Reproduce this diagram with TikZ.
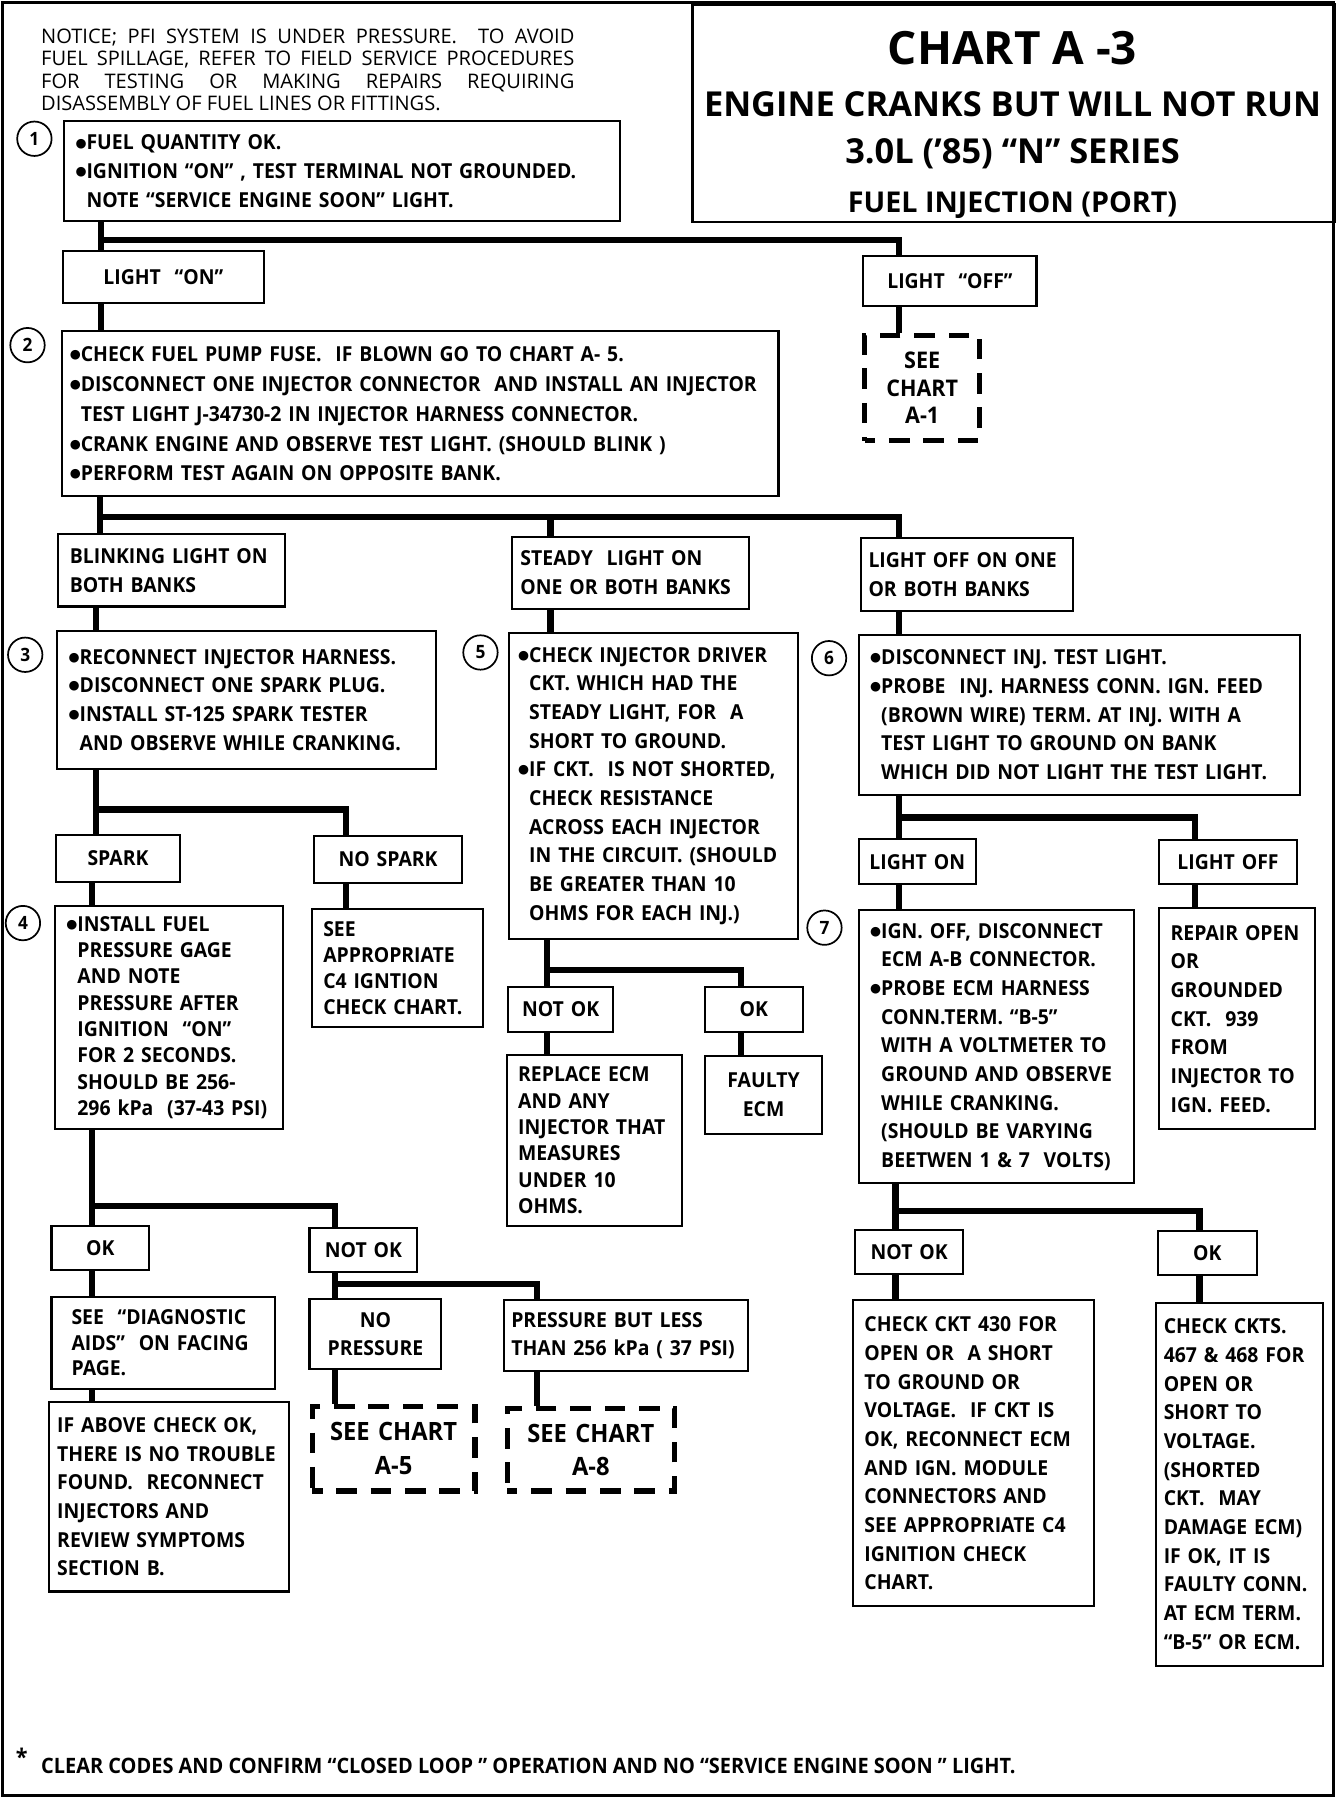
\documentclass[tikz,border=0pt]{standalone}
\usepackage{fontspec}
\setmainfont{Open Sans}[FakeStretch=0.94]
\newfontfamily\headfont{Open Sans}
\newfontfamily\symfont{DejaVu Sans}
\newcommand{\boxfont}{\fontsize{18}{25}\selectfont\bfseries}
\newcommand{\tightfont}{\fontsize{18}{23}\selectfont\bfseries}
\newcommand{\chartfont}{\fontsize{20}{24}\selectfont\bfseries}
\newcommand{\numfont}{\fontsize{16}{16}\selectfont\bfseries}
\newcommand{\notefont}{\headfont\fontsize{17.5}{19.7}\selectfont}
\newcommand{\bul}{\raisebox{2.6pt}{\symfont\fontsize{11}{11}\selectfont ●}}
\newcommand{\cont}{\hphantom{\bul}}
\tikzset{
  every picture/.style={line width=1.8pt},
  box/.style={draw, line width=1.8pt, anchor=north west, inner sep=0pt, align=left, font=\boxfont},
  tag/.style={box, align=center},
  seechart/.style={box, align=center, line width=4.5pt, dash pattern=on 18pt off 12pt, dash phase=9pt, font=\chartfont},
  link/.style={line width=5.5pt},
  num/.style={draw, circle, line width=1.5pt, minimum size=30pt, inner sep=0pt, font=\numfont},
  title/.style={anchor=base, inner sep=0pt},
  sz/.code 2 args={\pgfmathsetmacro\boxtw{#1-20}%
    \edef\boxset{\noexpand\pgfkeysalso{minimum width=#1pt, minimum height=#2pt, text width=\boxtw pt}}\boxset},
}

\begin{document}
\begin{tikzpicture}[x=1pt, y=-1pt]
  \useasboundingbox (0,0) rectangle (1172,1568);
  \draw[line width=3pt] (2,2) rectangle (1163,1566);
  % heading
  \node[box, sz={560}{190}] (head) at (603,3) {};
  \node[title, font={\headfont\fontsize{40}{40}\selectfont\bfseries}] (t1) at (883,56) {CHART A -3};
  \node[title, font={\headfont\fontsize{30}{30}\selectfont\bfseries}] (t2) at (883,102) {ENGINE CRANKS BUT WILL NOT RUN};
  \node[title, font={\headfont\fontsize{30}{30}\selectfont\bfseries}] (t3) at (883,143) {3.0L (’85) “N” SERIES};
  \node[title, font={\headfont\fontsize{25}{25}\selectfont\bfseries}] (t4) at (883,185) {FUEL INJECTION (PORT)};
  \node[anchor=north west, inner sep=0pt, align=left, font=\notefont] (notice) at (35,24) {%
    \makebox[465pt][s]{NOTICE; PFI SYSTEM IS UNDER PRESSURE.\ \ TO AVOID}\\
    \makebox[465pt][s]{FUEL SPILLAGE, REFER TO FIELD SERVICE PROCEDURES}\\
    \makebox[465pt][s]{FOR TESTING OR MAKING REPAIRS REQUIRING}\\
    DISASSEMBLY OF FUEL LINES OR FITTINGS.};
  % step numbers
  \node[num] (n1) at (30,121) {1};
  \node[num] (n2) at (24,301) {2};
  \node[num] (n3) at (22,571) {3};
  \node[num] (n4) at (20,805) {4};
  \node[num] (n5) at (419,569) {5};
  \node[num] (n6) at (723,574) {6};
  \node[num] (n7) at (719,809) {7};
  % boxes
  \node[box, sz={485}{87}] (b1) at (55,105) {\bul FUEL QUANTITY OK.\\
    \bul IGNITION “ON” , TEST TERMINAL NOT GROUNDED.\\
    \cont NOTE “SERVICE ENGINE SOON” LIGHT.};
  \node[tag, sz={175}{45}] (lon) at (54,218) {LIGHT\ \ “ON”};
  \node[tag, sz={151}{44}] (loff) at (752,222) {LIGHT\ \ “OFF”};
  \node[seechart, sz={100}{92}] (a1) at (752,290) {SEE\\CHART\\A-1};
  \node[box, sz={625}{144}, font={\fontsize{18}{26}\selectfont\bfseries}, text width=611pt] (b2) at (53,288) {\bul CHECK FUEL PUMP FUSE.\ \ IF BLOWN GO TO CHART A- 5.\\
    \bul DISCONNECT ONE INJECTOR CONNECTOR\ \ AND INSTALL AN INJECTOR\\
    \cont TEST LIGHT J-34730-2 IN INJECTOR HARNESS CONNECTOR.\\
    \bul CRANK ENGINE AND OBSERVE TEST LIGHT. (SHOULD BLINK )\\
    \bul PERFORM TEST AGAIN ON OPPOSITE BANK.};
  \node[box, sz={198}{63}] (blink) at (50,465) {BLINKING LIGHT ON\\BOTH BANKS};
  \node[box, sz={206}{63}, text width=192pt] (steady) at (446,467) {STEADY\ \ LIGHT ON\\ONE OR BOTH BANKS};
  \node[box, sz={185}{64}, text width=172pt] (loffone) at (750,468) {LIGHT OFF ON ONE\\OR BOTH BANKS};
  \node[box, sz={330}{121}] (b3) at (49,549) {\bul RECONNECT INJECTOR HARNESS.\\
    \bul DISCONNECT ONE SPARK PLUG.\\
    \bul INSTALL ST-125 SPARK TESTER\\
    \cont AND OBSERVE WHILE CRANKING.};
  \node[box, sz={252}{267}, text width=236pt] (b5) at (443,551) {\bul CHECK INJECTOR DRIVER\\
    \cont CKT. WHICH HAD THE\\
    \cont STEADY LIGHT, FOR\ \ A\\
    \cont SHORT TO GROUND.\\
    \bul IF CKT.\ \ IS NOT SHORTED,\\
    \cont CHECK RESISTANCE\\
    \cont ACROSS EACH INJECTOR\\
    \cont IN THE CIRCUIT. (SHOULD\\
    \cont BE GREATER THAN 10\\
    \cont OHMS FOR EACH INJ.)};
  \node[box, sz={385}{139}] (b6) at (748,553) {\bul DISCONNECT INJ. TEST LIGHT.\\
    \bul PROBE\ \ INJ. HARNESS CONN. IGN. FEED\\
    \cont (BROWN WIRE) TERM. AT INJ. WITH A\\
    \cont TEST LIGHT TO GROUND ON BANK\\
    \cont WHICH DID NOT LIGHT THE TEST LIGHT.};
  \node[tag, sz={108}{41}] (spark) at (48,727) {SPARK};
  \node[tag, sz={129}{41}] (nospark) at (273,728) {NO SPARK};
  \node[tag, sz={102}{39}, text width=100pt] (lighton) at (748,731) {LIGHT ON};
  \node[tag, sz={120}{38}, text width=116pt] (lightoff) at (1010,732) {LIGHT OFF};
  \node[box, sz={199}{195}, font=\tightfont] (b4) at (47,789) {\bul INSTALL FUEL\\
    \cont PRESSURE GAGE\\
    \cont AND NOTE\\
    \cont PRESSURE AFTER\\
    \cont IGNITION\ \ “ON”\\
    \cont FOR 2 SECONDS.\\
    \cont SHOULD BE 256-\\
    \cont 296 kPa\ \ (37-43 PSI)};
  \node[box, sz={149}{103}, font={\fontsize{18}{22.5}\selectfont\bfseries}] (seeappr) at (271,792) {SEE\\APPROPRIATE\\C4 IGNTION\\CHECK CHART.};
  \node[box, sz={240}{238}] (b7) at (748,793) {\bul IGN. OFF, DISCONNECT\\
    \cont ECM A-B CONNECTOR.\\
    \bul PROBE ECM HARNESS\\
    \cont CONN.TERM. “B-5”\\
    \cont WITH A VOLTMETER TO\\
    \cont GROUND AND OBSERVE\\
    \cont WHILE CRANKING.\\
    \cont (SHOULD BE VARYING\\
    \cont BEETWEN 1 \& 7\ \ VOLTS)};
  \node[box, sz={136}{193}] (repair) at (1010,791) {REPAIR OPEN\\OR\\GROUNDED\\CKT.\ \ 939\\FROM\\INJECTOR TO\\IGN. FEED.};
  \node[tag, sz={92}{39}, text width=88pt] (notok5) at (442,860) {NOT OK};
  \node[tag, sz={85}{39}] (ok5) at (614,860) {OK};
  \node[box, sz={153}{149}, font=\tightfont] (replace) at (441,919) {REPLACE ECM\\AND ANY\\INJECTOR THAT\\MEASURES\\UNDER 10\\OHMS.};
  \node[tag, sz={102}{68}] (faulty) at (614,920) {FAULTY\\ECM};
  \node[tag, sz={85}{39}] (ok4) at (44,1068) {OK};
  \node[tag, sz={94}{38}, text width=90pt] (notok4) at (269,1070) {NOT OK};
  \node[tag, sz={94}{38}, text width=90pt] (notok7) at (745,1072) {NOT OK};
  \node[tag, sz={86}{38}] (ok7) at (1009,1073) {OK};
  \node[box, sz={195}{80}, font={\fontsize{18}{22.5}\selectfont\bfseries}, text width=160pt] (seediag) at (44,1130) {SEE\ \ “DIAGNOSTIC\\AIDS”\ \ ON FACING\\PAGE.};
  \node[tag, sz={115}{61}] (nopress) at (269,1132) {NO\\PRESSURE};
  \node[box, sz={212}{62}, text width=200pt] (pressless) at (439,1133) {PRESSURE BUT LESS\\THAN 256 kPa ( 37 PSI)};
  \node[box, sz={210}{267}] (checkckt) at (743,1133) {CHECK CKT 430 FOR\\OPEN OR\ \ A SHORT\\TO GROUND OR\\VOLTAGE.\ \ IF CKT IS\\OK, RECONNECT ECM\\AND IGN. MODULE\\CONNECTORS AND\\SEE APPROPRIATE C4\\IGNITION CHECK\\CHART.};
  \node[box, sz={146}{317}, text width=132pt] (checkckts) at (1007,1135) {CHECK CKTS.\\467 \& 468 FOR\\OPEN OR\\SHORT TO\\VOLTAGE.\\(SHORTED\\CKT.\ \ MAY\\DAMAGE ECM)\\IF OK, IT IS\\FAULTY CONN.\\AT ECM TERM.\\“B-5” OR ECM.};
  \node[box, sz={209}{165}, text width=195pt] (ifabove) at (42,1222) {IF ABOVE CHECK OK,\\THERE IS NO TROUBLE\\FOUND.\ \ RECONNECT\\INJECTORS AND\\REVIEW SYMPTOMS\\SECTION B.};
  \node[seechart, sz={142}{74}, font={\fontsize{22}{29}\selectfont\bfseries}] (a5) at (270,1224) {SEE CHART\\A-5};
  \node[seechart, sz={146}{72}, font={\fontsize{22}{29}\selectfont\bfseries}] (a8) at (440,1226) {SEE CHART\\A-8};
  % connectors
  \coordinate (j1) at (88,209);
  \coordinate (k1) at (784,209);
  \draw[link] (b1.south -| j1) -- (lon.north -| j1);
  \draw[link] (j1) -- (k1) -- (loff.north -| k1);
  \draw[link] (lon.south -| j1) -- (b2.north -| j1);
  \draw[link] (loff.south -| k1) -- (a1.north -| k1);
  \coordinate (j2) at (87,451);
  \coordinate (m2) at (480,451);
  \coordinate (k2) at (784,451);
  \draw[link] (b2.south -| j2) -- (blink.north -| j2);
  \draw[link] (j2) -- (k2) -- (loffone.north -| k2);
  \draw[link] (m2) -- (steady.north -| m2);
  \coordinate (j3) at (84,706);
  \coordinate (k3) at (302,706);
  \draw[link] (blink.south -| j3) -- (b3.north -| j3);
  \draw[link] (b3.south -| j3) -- (spark.north -| j3);
  \draw[link] (j3) -- (k3) -- (nospark.north -| k3);
  \draw[link] (nospark.south -| k3) -- (seeappr.north -| k3);
  \coordinate (j4) at (80,1052);
  \coordinate (k4) at (292,1052);
  \coordinate (m4) at (468,1120);
  \draw[link] (spark.south -| j4) -- (b4.north -| j4);
  \draw[link] (b4.south -| j4) -- (ok4.north -| j4);
  \draw[link] (j4) -- (k4) -- (notok4.north -| k4);
  \draw[link] (ok4.south -| j4) -- (seediag.north -| j4);
  \draw[link] (seediag.south -| j4) -- (ifabove.north -| j4);
  \draw[link] (notok4.south -| k4) -- (nopress.north -| k4);
  \draw[link] (m4 -| k4) -- (m4) -- (pressless.north -| m4);
  \draw[link] (nopress.south -| k4) -- (a5.north -| k4);
  \draw[link] (pressless.south -| m4) -- (a8.north -| m4);
  \coordinate (j5) at (477,846);
  \coordinate (k5) at (646,846);
  \draw[link] (steady.south -| m2) -- (b5.north -| m2);
  \draw[link] (b5.south -| j5) -- (notok5.north -| j5);
  \draw[link] (j5) -- (k5) -- (ok5.north -| k5);
  \draw[link] (notok5.south -| j5) -- (replace.north -| j5);
  \draw[link] (ok5.south -| k5) -- (faulty.north -| k5);
  \coordinate (j6) at (784,713);
  \coordinate (k6) at (1042,713);
  \draw[link] (loffone.south -| k2) -- (b6.north -| k2);
  \draw[link] (b6.south -| j6) -- (lighton.north -| j6);
  \draw[link] (j6) -- (k6) -- (lightoff.north -| k6);
  \draw[link] (lighton.south -| j6) -- (b7.north -| j6);
  \draw[link] (lightoff.south -| k6) -- (repair.north -| k6);
  \coordinate (j7) at (781,1056);
  \coordinate (k7) at (1046,1056);
  \draw[link] (b7.south -| j7) -- (notok7.north -| j7);
  \draw[link] (j7) -- (k7) -- (ok7.north -| k7);
  \draw[link] (notok7.south -| j7) -- (checkckt.north -| j7);
  \draw[link] (ok7.south -| k7) -- (checkckts.north -| k7);
  % footnote
  \node[anchor=base west, inner sep=0pt, font={\fontsize{18.5}{20}\selectfont\bfseries}] (foot) at (35,1547) {CLEAR CODES AND CONFIRM “CLOSED LOOP ” OPERATION AND NO “SERVICE ENGINE SOON ” LIGHT.};
  \node[anchor=base, inner sep=0pt, font={\fontsize{20}{20}\selectfont\bfseries}] (star) at (19,1540) {*};
\end{tikzpicture}
\end{document}
